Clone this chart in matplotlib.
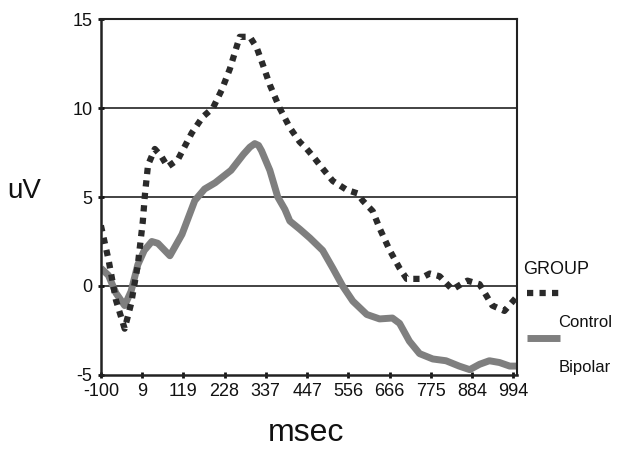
import matplotlib
matplotlib.use("Agg")
import matplotlib.pyplot as plt
from matplotlib.lines import Line2D

plt.rcParams['font.family'] = ['Liberation Sans', 'DejaVu Sans']
plt.rcParams['axes.unicode_minus'] = False

# ERP averages (ms, uV)
control_ms = [-100, -80, -60, -37, -20, -2, 11, 17, 25, 43, 60, 77, 104, 141, 170, 197, 220,
              242, 268, 295, 313, 330, 348, 374, 401, 427, 446, 462, 488, 515, 552, 581,
              594, 621, 640, 666, 692, 711, 745, 772, 798, 832, 855, 872, 904, 938, 970, 999]
control_uv = [3.4, 1.5, -0.8, -2.4, -1.0, 1.2, 3.6, 5.2, 6.8, 7.7, 7.3, 6.7, 7.1, 8.6, 9.5, 10.0, 11.0,
              12.2, 14.0, 14.0, 13.4, 12.4, 11.3, 10.0, 8.9, 8.1, 7.7, 7.3, 6.6, 5.9, 5.4, 5.2,
              4.8, 4.2, 3.2, 2.0, 1.0, 0.4, 0.4, 0.7, 0.55, -0.2, 0.1, 0.3, 0.1, -1.1, -1.4, -0.7]

bipolar_ms = [-100, -80, -60, -37, -20, -2, 15, 35, 51, 83, 115, 149, 175, 203,
              245, 278, 295, 308, 318, 326, 348, 369, 388, 401, 427, 454, 488,
              515, 541, 568, 605, 639, 673, 692, 718, 745, 780, 815, 850, 878, 904,
              930, 957, 984, 1002]
bipolar_uv = [1.0, 0.6, -0.4, -1.1, -0.3, 1.2, 2.0, 2.5, 2.4, 1.7, 2.9, 4.8, 5.45, 5.8,
              6.5, 7.4, 7.8, 8.0, 7.9, 7.6, 6.5, 5.0, 4.3, 3.65, 3.2, 2.7, 2.0,
              1.0, 0.0, -0.85, -1.6, -1.85, -1.8, -2.1, -3.1, -3.8, -4.1, -4.2, -4.5,
              -4.7, -4.4, -4.2, -4.3, -4.5, -4.5]

x_ticks = [-100, 9, 119, 228, 337, 447, 556, 666, 775, 884, 994]
y_ticks = [-5, 0, 5, 10, 15]

fig = plt.figure(figsize=(6.19, 4.5), dpi=100)
ax = fig.add_axes([0.163, 0.1667, 0.672, 0.791])

for y in y_ticks[1:-1]:
    ax.axhline(y, color='#222222', lw=1.2, zorder=1)

ax.plot(bipolar_ms, bipolar_uv, color='#7f7f7f', lw=5, solid_capstyle='butt',
        solid_joinstyle='round', zorder=2)
ax.plot(control_ms, control_uv, color='#2a2a2a', lw=4.5, linestyle=(0, (1, 1)),
        dash_capstyle='butt', zorder=3)

ax.set_xlim(-100, 1003)
ax.set_ylim(-5, 15)
ax.set_xticks(x_ticks)
ax.set_yticks(y_ticks)
ax.tick_params(direction='inout', length=4, width=2, labelsize=13, colors='#111111', pad=4)

ax.spines['left'].set_linewidth(1.8)
ax.spines['bottom'].set_linewidth(1.8)
ax.spines['right'].set_linewidth(1.5)
ax.spines['top'].set_linewidth(1.5)
for s in ax.spines.values():
    s.set_color('#222222')

fig.text(0.012, 0.575, 'uV', fontsize=20, ha='left', va='center', color='#111111')
fig.text(0.495, 0.038, 'msec', fontsize=23, ha='center', va='center', color='#111111')

# legend laid out like the original
fig.text(0.845, 0.402, 'GROUP', fontsize=13, ha='left', va='center', color='#111111')
fig.add_artist(Line2D([0.852, 0.905], [0.350, 0.350], transform=fig.transFigure,
                      color='#2a2a2a', lw=4.5, linestyle=(0, (1, 1)), dash_capstyle='butt'))
fig.text(0.902, 0.283, 'Control', fontsize=12, ha='left', va='center', color='#111111')
fig.add_artist(Line2D([0.852, 0.905], [0.249, 0.249], transform=fig.transFigure,
                      color='#7f7f7f', lw=5, solid_capstyle='butt'))
fig.text(0.902, 0.184, 'Bipolar', fontsize=12, ha='left', va='center', color='#111111')

fig.savefig('out.png', dpi=100)
